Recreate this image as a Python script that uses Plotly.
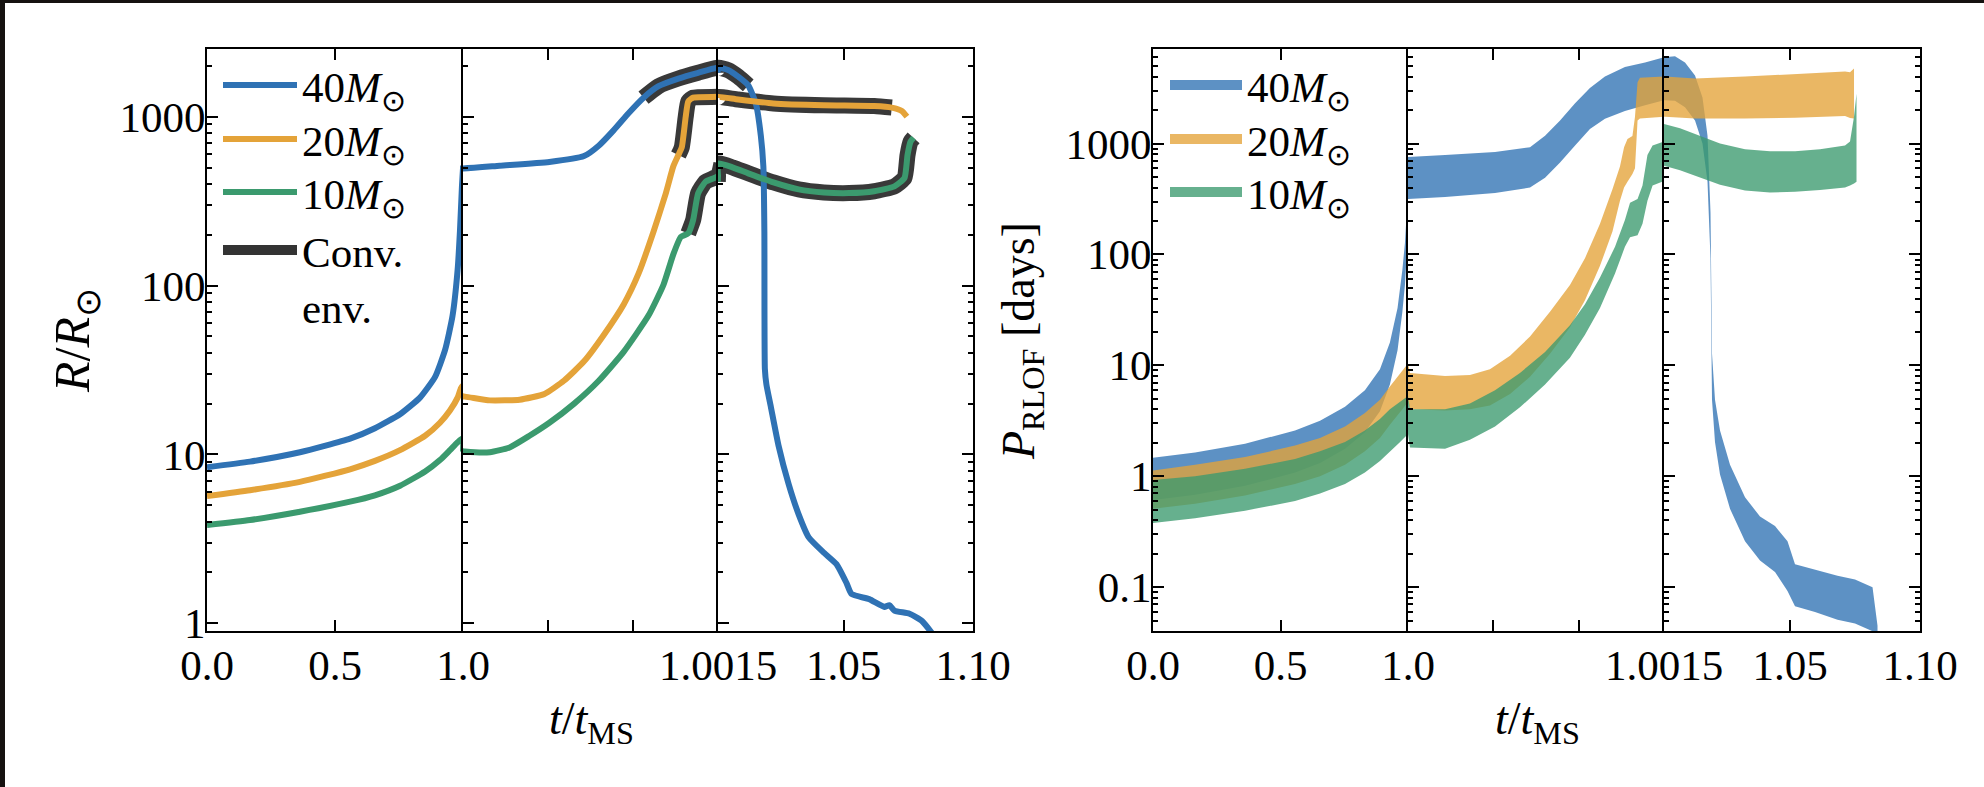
import plotly.graph_objects as go

# ------------------------------------------------------------------
# DATA
# ------------------------------------------------------------------
# --- Radius R/Rsun versus t/t_MS ---
T_R40 = [0.0, 0.168, 0.363, 0.559, 0.656, 0.754, 0.832, 0.891, 0.930, 0.959, 0.979, 0.988, 0.996, 1.0,
         1.000216, 1.000508, 1.000712, 1.000800, 1.000887, 1.000975, 1.001062, 1.001150, 1.001267, 1.001383, 1.0015,
         1.00539, 1.00929, 1.01318, 1.01610, 1.01805, 1.01902, 1.01941, 1.01961, 1.02019, 1.02195, 1.02487, 1.02876,
         1.03265, 1.03655, 1.04239, 1.04726, 1.05115, 1.05310, 1.05991, 1.06576, 1.06770, 1.06965, 1.07549, 1.08035, 1.08425]
R40 = [8.4, 9.07, 10.3, 12.4, 14.3, 17.3, 21.7, 28.8, 41.6, 66, 124, 209, 391, 494,
       513, 540, 585, 676, 833, 1053, 1297, 1517, 1683, 1820, 1950,
       1888, 1727, 1533, 1199, 770, 508, 209, 32, 26, 19.0, 11.3, 6.7,
       4.42, 3.23, 2.62, 2.24, 1.73, 1.49, 1.39, 1.25, 1.28, 1.19, 1.14, 1.03, 0.87]

T_R20 = [0.0, 0.168, 0.363, 0.559, 0.656, 0.754, 0.852, 0.910, 0.949, 0.979, 0.992, 0.9995,
         1.0000117, 1.000158, 1.000333, 1.000479, 1.000595, 1.000712, 1.000829, 1.000946, 1.001033, 1.001121,
         1.001193, 1.001237, 1.001267, 1.001287, 1.001310, 1.001325, 1.001354, 1.0015,
         1.00929, 1.02292, 1.04239, 1.06186, 1.06862, 1.07252, 1.07447]
R20 = [5.67, 6.14, 6.88, 8.17, 9.16, 10.6, 12.9, 15.4, 18.2, 21.7, 24.7, 25.5,
       22.0, 20.9, 21.1, 22.8, 27.4, 35.6, 51.2, 77.6, 118, 209,
       352, 508, 593, 659, 998, 1230, 1297, 1311,
       1264, 1199, 1169, 1157, 1133, 1081, 1000]

T_R10 = [0.0, 0.168, 0.363, 0.559, 0.656, 0.754, 0.852, 0.910, 0.949, 0.979, 0.9995,
         1.0000117, 1.000158, 1.000274, 1.000391, 1.000508, 1.000654, 1.000800, 1.000945, 1.001091, 1.001179,
         1.001237, 1.001281, 1.001325, 1.001354, 1.001383, 1.001427, 1.0015,
         1.00152, 1.00734, 1.01318, 1.02292, 1.03265, 1.04239, 1.05212, 1.06186, 1.06965, 1.07354, 1.07471,
         1.07588, 1.07705]
R10 = [3.82, 4.09, 4.58, 5.25, 5.73, 6.53, 7.92, 9.26, 10.6, 11.8, 12.5,
       10.4, 10.3, 11.0, 12.9, 15.4, 20.0, 27.4, 40.5, 66.4, 101,
       153, 194, 204, 245, 352, 412, 446,
       529, 500, 462, 408, 371, 356, 353, 362, 387, 434, 593,
       712, 750]

# convective-envelope phases (t/t_MS start, end)
ENV40 = (1.001062, 1.01318)
ENV20 = (1.001267, 1.06862)
ENV10 = (1.001325, 1.07705)

# --- P_RLOF [days] bands (lower, upper) versus t/t_MS ---
T_P40 = [0.0, 0.165, 0.361, 0.557, 0.655, 0.753, 0.831, 0.890, 0.929, 0.959, 0.978, 0.988, 0.996, 1.0,
         1.000217, 1.000510, 1.000715, 1.000803, 1.000891, 1.000979, 1.001066, 1.001154, 1.001271, 1.001389, 1.0015,
         1.00573, 1.00958, 1.01343, 1.01631, 1.01824, 1.01939, 1.01997, 1.02112, 1.02305, 1.0269, 1.03267, 1.03844,
         1.04421, 1.04902, 1.05191, 1.0596, 1.06827, 1.075, 1.08173, 1.08365]
P40_HI = [1.47, 1.64, 1.96, 2.59, 3.16, 4.24, 5.97, 9.24, 16.1, 32.9, 72.8, 127, 259, 757,
          789, 839, 924, 1172, 1611, 2302, 3162, 4012, 4894, 5383, 6000,
          6110, 5383, 4111, 2594, 1172, 239, 12.7, 4.9, 2.59, 1.27, 0.646, 0.434,
          0.356, 0.259, 0.161, 0.143, 0.127, 0.117, 0.1, 0.045]
P40_LO = [0.611, 0.683, 0.82, 1.08, 1.32, 1.77, 2.49, 3.86, 6.72, 13.7, 30.4, 53.0, 108, 316,
          329, 357, 401, 490, 673, 961, 1352, 1676, 1963, 2212, 2450,
          2433, 2128, 1611, 1000, 452, 92.4, 4.9, 2.04, 1.04, 0.509, 0.259, 0.174,
          0.137, 0.0924, 0.0673, 0.0598, 0.0509, 0.047, 0.0401, 0.0356]

T_P20 = [0.0, 0.165, 0.361, 0.557, 0.655, 0.753, 0.831, 0.890, 0.929, 0.959, 0.978, 1.0,
         1.0000117, 1.000217, 1.000363, 1.000480, 1.000598, 1.000715, 1.000832, 1.000949, 1.001037, 1.001125,
         1.001198, 1.001242, 1.001266, 1.001286, 1.001315, 1.001330, 1.001345, 1.001359, 1.0015,
         1.00188, 1.01343, 1.03267, 1.05191, 1.06153, 1.07115, 1.07307, 1.07461]
P20_HI = [1.13, 1.27, 1.49, 1.89, 2.21, 2.81, 3.71, 4.90, 6.46, 7.88, 8.88, 10.4,
          8.53, 8.00, 8.20, 9.24, 12.2, 18.2, 30.4, 53.0, 92.4, 189,
          386, 621, 924, 1100, 1170, 1740, 3560, 3920, 4010,
          4010, 3850, 4010, 4240, 4340, 4450, 4390, 4750]
P20_LO = [0.509, 0.565, 0.672, 0.853, 1.0, 1.27, 1.68, 2.21, 2.92, 3.56, 4.01, 4.70,
          4.01, 3.92, 4.01, 4.34, 5.51, 7.88, 12.7, 22.1, 38.6, 78.9,
          161, 304, 401, 452, 530, 597, 1610, 1680, 1740,
          1740, 1680, 1680, 1710, 1740, 1770, 1700, 1680]

T_P10 = [0.0, 0.165, 0.361, 0.557, 0.655, 0.753, 0.831, 0.890, 0.929, 0.969, 1.0,
         1.0000117, 1.000217, 1.000363, 1.000510, 1.000656, 1.000803, 1.000949, 1.001037, 1.001125, 1.001213,
         1.001271, 1.001301, 1.001345, 1.001374, 1.001403, 1.001433, 1.0015,
         1.00152, 1.00766, 1.01343, 1.02305, 1.03267, 1.04229, 1.05191, 1.06153, 1.07115, 1.07307, 1.07461, 1.07557]
P10_HI = [0.924, 1.0, 1.17, 1.43, 1.68, 2.04, 2.59, 3.29, 4.01, 4.70, 5.30,
          4.01, 4.01, 4.52, 5.97, 8.53, 13.2, 23.0, 35.6, 62.1, 117,
          204, 292, 316, 418, 789, 961, 1040,
          1500, 1370, 1220, 1000, 888, 853, 853, 888, 961, 1040, 1740, 2810]
P10_LO = [0.379, 0.418, 0.49, 0.597, 0.70, 0.853, 1.08, 1.37, 1.68, 2.04, 2.40,
          1.82, 1.77, 2.13, 2.81, 4.18, 6.72, 11.7, 18.9, 32.9, 67.2,
          117, 143, 149, 189, 304, 418, 460,
          630, 574, 509, 425, 376, 362, 368, 380, 401, 418, 435, 452]

# --- axes / labels ---
PANEL_RANGES = [(0.0, 1.0), (1.0, 1.0015), (1.0015, 1.10)]
X_TICKVALS = [[0.0, 0.5, 1.0], [1.0015], [1.05, 1.10]]
X_TICKTEXT = [["0.0", "0.5", "1.0"], ["1.0015"], ["1.05", "1.10"]]
X_UNLABELED = [[], [1.0005, 1.001], []]
R_TICKS = [1, 10, 100, 1000]
R_TICKTEXT = ["1", "10", "100", "1000"]
P_TICKS = [0.1, 1, 10, 100, 1000]
P_TICKTEXT = ["0.1", "1", "10", "100", "1000"]
R_LOGRANGE = [-0.0456, 3.401]
P_LOGRANGE = [-1.395, 3.852]
MASS_LABELS = ["40<i>M</i><sub>⊙</sub>", "20<i>M</i><sub>⊙</sub>", "10<i>M</i><sub>⊙</sub>"]
ENV_LABEL = "Conv.<br>env."

# ------------------------------------------------------------------
# STYLE
# ------------------------------------------------------------------
W, H = 1984, 787
FONT = "Liberation Serif, Times New Roman, serif"
FS = 43
BLUE, ORANGE, GREEN = "#2f72b4", "#e4a339", "#3b9a6e"
FILLS = ["rgba(47,114,180,0.78)", "rgba(228,163,57,0.78)", "rgba(59,154,110,0.78)"]
ENV_COLOR = "#333333"
LEFT_EDGES = [207, 463, 718, 973]
RIGHT_EDGES = [1153, 1408, 1664, 1920]
TOP_PX, BOTTOM_PX = 49, 631
LEGEND_ROWS_PX = [85, 139, 192]      # vertical centres of the legend rows
ENV_ROW_PX = 278


def fx(px):
    return px / W


def fy(py):
    return 1 - py / H


def panel_slice(t, lo, hi):
    idx = [i for i, v in enumerate(t) if lo <= v <= hi]
    if not idx:
        return None
    i0 = max(idx[0] - 1, 0)
    i1 = min(idx[-1] + 1, len(t) - 1)
    return slice(i0, i1 + 1)


def minor_vals(lo_exp, hi_exp):
    out = []
    for e in range(lo_exp, hi_exp + 1):
        for m in range(2, 10):
            out.append(m * 10 ** e)
    return out


fig = go.Figure()

# ---------------- left figure: radius ----------------
series_R = [(T_R40, R40, BLUE, ENV40), (T_R20, R20, ORANGE, ENV20), (T_R10, R10, GREEN, ENV10)]
for k, (lo, hi) in enumerate(PANEL_RANGES):
    xa, ya = f"x{k + 1 if k else ''}", f"y{k + 1 if k else ''}"
    for t, r, col, env in series_R:
        et = [v for v in t if env[0] <= v <= env[1]]
        er = [r[i] for i, v in enumerate(t) if env[0] <= v <= env[1]]
        s = panel_slice(et, lo, hi)
        if s is None:
            continue
        fig.add_trace(go.Scatter(x=et[s], y=er[s], mode="lines", xaxis=xa, yaxis=ya,
                                 line=dict(color=ENV_COLOR, width=16, shape="spline", smoothing=0.5),
                                 opacity=0.97, showlegend=False, hoverinfo="skip"))
    for t, r, col, env in series_R:
        s = panel_slice(t, lo, hi)
        if s is None:
            continue
        fig.add_trace(go.Scatter(x=t[s], y=r[s], mode="lines", xaxis=xa, yaxis=ya,
                                 line=dict(color=col, width=6, shape="spline", smoothing=0.5),
                                 showlegend=False))

# ---------------- right figure: P_RLOF bands ----------------
series_P = [(T_P40, P40_LO, P40_HI, FILLS[0]), (T_P20, P20_LO, P20_HI, FILLS[1]), (T_P10, P10_LO, P10_HI, FILLS[2])]
for k, (lo, hi) in enumerate(PANEL_RANGES):
    xa, ya = f"x{k + 4}", f"y{k + 4}"
    for t, plo, phi, col in series_P:
        s = panel_slice(t, lo, hi)
        if s is None:
            continue
        tt = t[s]
        xs = list(tt) + list(tt)[::-1]
        ys = list(phi[s]) + list(plo[s])[::-1]
        fig.add_trace(go.Scatter(x=xs, y=ys, mode="lines", fill="toself", fillcolor=col,
                                 line=dict(width=0, color=col), xaxis=xa, yaxis=ya,
                                 showlegend=False, hoverinfo="skip"))

# ---------------- legends: one native legend per row for exact spacing ----------------
legend_layout = {}


def legend_box(name, xpx, ypx, itemwidth):
    legend_layout[name] = dict(x=fx(xpx), y=fy(ypx), xanchor="left", yanchor="middle",
                               bgcolor="rgba(0,0,0,0)", font=dict(family=FONT, size=FS, color="black"),
                               itemwidth=itemwidth, valign="top")


lname = ["legend", "legend2", "legend3", "legend4", "legend5", "legend6", "legend7"]
for i, (lab, col) in enumerate(zip(MASS_LABELS, [BLUE, ORANGE, GREEN])):
    fig.add_trace(go.Scatter(x=[None], y=[None], mode="lines", name=lab, xaxis="x", yaxis="y",
                             line=dict(color=col, width=6), legend=lname[i]))
    legend_box(lname[i], 218, LEGEND_ROWS_PX[i], 74)
fig.add_trace(go.Scatter(x=[None], y=[None], mode="lines", name=ENV_LABEL, xaxis="x", yaxis="y",
                         line=dict(color=ENV_COLOR, width=20), legend=lname[3]))
legend_box(lname[3], 218, ENV_ROW_PX, 74)
for i, (lab, col) in enumerate(zip(MASS_LABELS, FILLS)):
    fig.add_trace(go.Scatter(x=[None], y=[None], mode="lines", name=lab, xaxis="x4", yaxis="y4",
                             line=dict(color=col, width=12), legend=lname[4 + i]))
    legend_box(lname[4 + i], 1165, LEGEND_ROWS_PX[i], 72)

# ---------------- axes ----------------
layout = {}
for block, edges, ticks, ticktext, yr in [(0, LEFT_EDGES, R_TICKS, R_TICKTEXT, R_LOGRANGE),
                                         (3, RIGHT_EDGES, P_TICKS, P_TICKTEXT, P_LOGRANGE)]:
    for k in range(3):
        n = block + k + 1
        xkey = "xaxis" if n == 1 else f"xaxis{n}"
        ykey = "yaxis" if n == 1 else f"yaxis{n}"
        xd = dict(
            domain=[fx(edges[k]), fx(edges[k + 1])], range=list(PANEL_RANGES[k]),
            anchor="y" if n == 1 else f"y{n}",
            showline=True, linecolor="black", linewidth=2, mirror="ticks",
            ticks="inside", ticklen=11, tickwidth=2, tickcolor="black",
            tickmode="array", tickvals=X_TICKVALS[k], ticktext=X_TICKTEXT[k],
            tickfont=dict(family=FONT, size=FS, color="black"), ticklabelstandoff=-5,
            showgrid=False, zeroline=False, fixedrange=True, automargin=False)
        if X_UNLABELED[k]:
            xd["minor"] = dict(ticks="inside", ticklen=11, tickwidth=2, tickcolor="black",
                               tickmode="array", tickvals=X_UNLABELED[k], showgrid=False)
        layout[xkey] = xd
        yd = dict(
            domain=[fy(BOTTOM_PX), fy(TOP_PX)], type="log", range=yr,
            anchor="x" if n == 1 else f"x{n}",
            showline=True, linecolor="black", linewidth=2,
            mirror="ticks" if k == 2 else False,
            ticks="inside", ticklen=11, tickwidth=2, tickcolor="black",
            showticklabels=(k == 0), ticklabelstandoff=-9,
            tickfont=dict(family=FONT, size=FS, color="black"),
            minor=dict(ticks="inside", ticklen=5, tickwidth=1.5, tickcolor="black",
                       tickmode="array", tickvals=minor_vals(-2, 3), showgrid=False),
            showgrid=False, zeroline=False, fixedrange=True, automargin=False,
            tickmode="array", tickvals=ticks)
        if k == 0:
            yd["ticktext"] = ticktext
        layout[ykey] = yd

ann_common = dict(xref="paper", yref="paper", showarrow=False, xanchor="center", yanchor="middle")
annotations = [
    dict(text="<i>R</i>/<i>R</i><sub>⊙</sub>", x=fx(76), y=fy(341), textangle=-90,
         font=dict(family=FONT, size=50, color="black"), **ann_common),
    dict(text="<i>P</i><sub>RLOF</sub> [days]", x=fx(1022), y=fy(341), textangle=-90,
         font=dict(family=FONT, size=46, color="black"), **ann_common),
    dict(text="<i>t</i>/<i>t</i><sub>MS</sub>", x=fx(591), y=fy(722),
         font=dict(family=FONT, size=46, color="black"), **ann_common),
    dict(text="<i>t</i>/<i>t</i><sub>MS</sub>", x=fx(1537), y=fy(722),
         font=dict(family=FONT, size=46, color="black"), **ann_common),
]

shapes = [
    dict(type="rect", xref="paper", yref="paper", x0=0, x1=1, y0=fy(3), y1=1,
         fillcolor="#151210", line=dict(width=0), layer="above"),
    dict(type="rect", xref="paper", yref="paper", x0=0, x1=fx(5), y0=0, y1=1,
         fillcolor="#151210", line=dict(width=0), layer="above"),
]

fig.update_layout(
    width=W, height=H, margin=dict(l=0, r=0, t=0, b=0, pad=0, autoexpand=False),
    paper_bgcolor="white", plot_bgcolor="rgba(0,0,0,0)",
    font=dict(family=FONT, size=FS, color="black"),
    annotations=annotations, shapes=shapes,
    **legend_layout,
    **layout,
)

fig.write_html("out.html")
